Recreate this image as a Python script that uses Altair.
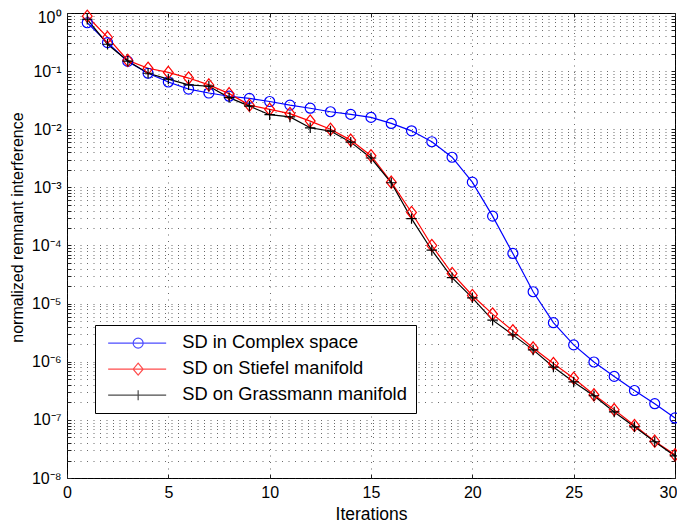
import math
import altair as alt
import pandas as pd

ITER = list(range(1, 31))
SERIES = ["SD in Complex space", "SD on Stiefel manifold", "SD on Grassmann manifold"]
COLORS = ["#0000ff", "#ff0000", "#000000"]

complex_vals = [0.68, 0.31, 0.147, 0.092, 0.065, 0.049, 0.042, 0.037, 0.034, 0.030,
                0.026, 0.023, 0.020, 0.018, 0.016, 0.0126, 0.0094, 0.0061, 0.0033, 0.00123,
                3.2e-4, 7.3e-5, 1.6e-5, 4.7e-6, 1.95e-6, 9.9e-7, 5.6e-7, 3.2e-7, 1.9e-7, 1.08e-7]
stiefel_vals = [0.88, 0.38, 0.153, 0.112, 0.095, 0.076, 0.058, 0.041, 0.026, 0.022,
                0.0186, 0.0138, 0.010, 0.0065, 0.0035, 0.00123, 3.7e-4, 1.0e-4, 3.3e-5, 1.38e-5,
                6.6e-6, 3.4e-6, 1.73e-6, 9.3e-7, 5.2e-7, 2.7e-7, 1.5e-7, 8.0e-8, 4.3e-8, 2.5e-8]
grassmann_vals = [0.78, 0.29, 0.149, 0.092, 0.073, 0.058, 0.055, 0.035, 0.025, 0.0178,
                  0.0163, 0.0106, 0.0093, 0.0060, 0.0032, 0.0012, 2.9e-4, 8.3e-5, 2.8e-5, 1.26e-5,
                  5.2e-6, 2.9e-6, 1.6e-6, 8.1e-7, 4.5e-7, 2.6e-7, 1.37e-7, 7.6e-8, 4.2e-8, 2.4e-8]

X_TICKS = [0, 5, 10, 15, 20, 25, 30]
Y_DECADES = [1e-8, 1e-7, 1e-6, 1e-5, 1e-4, 1e-3, 1e-2, 1e-1, 1.0]
Y_DECADE_LABELS = ["10⁻⁸", "10⁻⁷", "10⁻⁶", "10⁻⁵", "10⁻⁴", "10⁻³", "10⁻²", "10⁻¹", "10⁰"]
Y_TICKS = [m * d for d in Y_DECADES[:-1] for m in range(1, 10)] + [1.0]

FONT = "Liberation Sans"

rows = []
for s, vals in zip(SERIES, [complex_vals, stiefel_vals, grassmann_vals]):
    for i, v in zip(ITER, vals):
        rows.append({"iter": i, "value": v, "series": s})
df = pd.DataFrame(rows)

# label expression: show a label only on decades
expr = "''"
for v, lab in zip(Y_DECADES, Y_DECADE_LABELS):
    e = round(math.log10(v))
    expr = f"abs(log(datum.value)/LN10 - ({e})) < 1e-6 ? '{lab}' : ({expr})"

x_scale = alt.Scale(domain=[0, 30], nice=False, zero=False)
y_scale = alt.Scale(type="log", domain=[1e-8, 1], nice=False)
color_scale = alt.Scale(domain=SERIES, range=COLORS)

TICK = 4
GRID_DASH = [1, 5.5]
GRID_COLOR = "#222222"
GRID_OP = 0.85
GRID_W = 0.8
TICK_FS = 16
TITLE_FS = 17.5

x_axis_main = alt.Axis(values=X_TICKS, title="Iterations", domain=False, ticks=True,
                       tickSize=TICK, offset=-TICK, tickColor="#222",
                       labelPadding=6, labelFont=FONT, labelFontSize=TICK_FS, labelColor="#000",
                       labelFlush=False, labelAngle=0,
                       labelOffset={"condition": {"test": "datum.value >= 30", "value": -7},
                                    "value": 0},
                       grid=True, gridDash=GRID_DASH, gridColor=GRID_COLOR, gridOpacity=GRID_OP,
                       gridWidth=GRID_W,
                       titleFont=FONT, titleFontSize=TITLE_FS, titleFontWeight="normal",
                       titleColor="#000", titleBaseline="alphabetic", titleY=45)
y_axis_main = alt.Axis(values=Y_TICKS, labelExpr=expr, title="normalized remnant interference",
                       domain=False, ticks=True, tickSize=TICK, offset=-TICK, tickColor="#222",
                       labelPadding=6, labelFont=FONT, labelFontSize=TICK_FS, labelColor="#000",
                       labelFlush=False,
                       labelOffset={"condition": {"test": "datum.value >= 0.999", "value": 4},
                                    "value": 0},
                       grid=True, gridDash=GRID_DASH, gridColor=GRID_COLOR, gridOpacity=GRID_OP,
                       gridWidth=GRID_W,
                       titleFont=FONT, titleFontSize=16, titleFontWeight="normal", titleColor="#000",
                       titleX=-49, titleY=214, titleAngle=270, titleAlign="center",
                       titleBaseline="alphabetic")
x_axis_top = alt.Axis(values=X_TICKS, orient="top", title=None, labels=False, domain=False,
                      ticks=True, tickSize=TICK, offset=-TICK, tickColor="#222", grid=False)
y_axis_right = alt.Axis(values=Y_TICKS, orient="right", title=None, labels=False, domain=False,
                        ticks=True, tickSize=TICK, offset=-TICK, tickColor="#222", grid=False)

base = alt.Chart(df)

lines = base.mark_line(strokeWidth=1.2).encode(
    x=alt.X("iter:Q", scale=x_scale, axis=x_axis_main),
    y=alt.Y("value:Q", scale=y_scale, axis=y_axis_main),
    color=alt.Color("series:N", scale=color_scale, sort=SERIES),
    detail="series:N",
)

ticks_layer = base.mark_line(strokeOpacity=0).encode(
    x=alt.X("iter:Q", scale=x_scale, axis=x_axis_top),
    y=alt.Y("value:Q", scale=y_scale, axis=y_axis_right),
    detail="series:N",
)

MARKER_SHAPES = [
    "circle",
    "M0,-1L0.8,0L0,1L-0.8,0Z",
    "M-1,0H1M0,-1V1",
]
MARKER_SIZES = [100, 150, 110]

point_layers = []
for s, c, shp, sz in zip(SERIES, COLORS, MARKER_SHAPES, MARKER_SIZES):
    point_layers.append(
        base.transform_filter(alt.datum.series == s).mark_point(
            shape=shp, filled=False, color=c, size=sz, strokeWidth=1.2, opacity=1
        ).encode(
            x=alt.X("iter:Q", scale=x_scale, axis=None),
            y=alt.Y("value:Q", scale=y_scale, axis=None),
        )
    )

# legend symbols: nominal 10px square (unit = 5px); line runs 58px to the right
LEGEND_SHAPES = [
    "M-1,0H10.6M4,0A1,1,0,1,0,6,0A1,1,0,1,0,4,0",
    "M-1,0H10.6M5,-1.2L6,0L5,1.2L4,0Z",
    "M-1,0H10.6M5,-1V1",
]
legend_cfg = alt.Legend(title=None, orient="none", legendX=28, legendY=312,
                        symbolSize=100, symbolStrokeWidth=1.2, symbolFillColor="transparent",
                        labelFont=FONT, labelFontSize=18.3, labelColor="#000", labelOffset=60,
                        rowPadding=7, padding=9, strokeColor="#000", fillColor="#fff",
                        cornerRadius=0, labelLimit=400)

legend_layer = base.transform_filter("false").mark_point(filled=False, strokeWidth=1.2).encode(
    x=alt.X("iter:Q", scale=x_scale, axis=None),
    y=alt.Y("value:Q", scale=y_scale, axis=None),
    color=alt.Color("series:N", scale=color_scale, sort=SERIES, legend=legend_cfg),
    shape=alt.Shape("series:N", scale=alt.Scale(domain=SERIES, range=LEGEND_SHAPES),
                    sort=SERIES, legend=legend_cfg),
)

chart = alt.layer(lines, ticks_layer, *point_layers, legend_layer).resolve_axis(
    x="independent", y="independent"
).properties(
    width=608, height=465,
    autosize=alt.AutoSizeParams(type="none"),
    padding={"left": 59, "top": 5, "right": 2, "bottom": 44},
).configure_view(stroke="#000", strokeWidth=1)

chart.save("out.html", embed_options={"renderer": "svg", "actions": False})
